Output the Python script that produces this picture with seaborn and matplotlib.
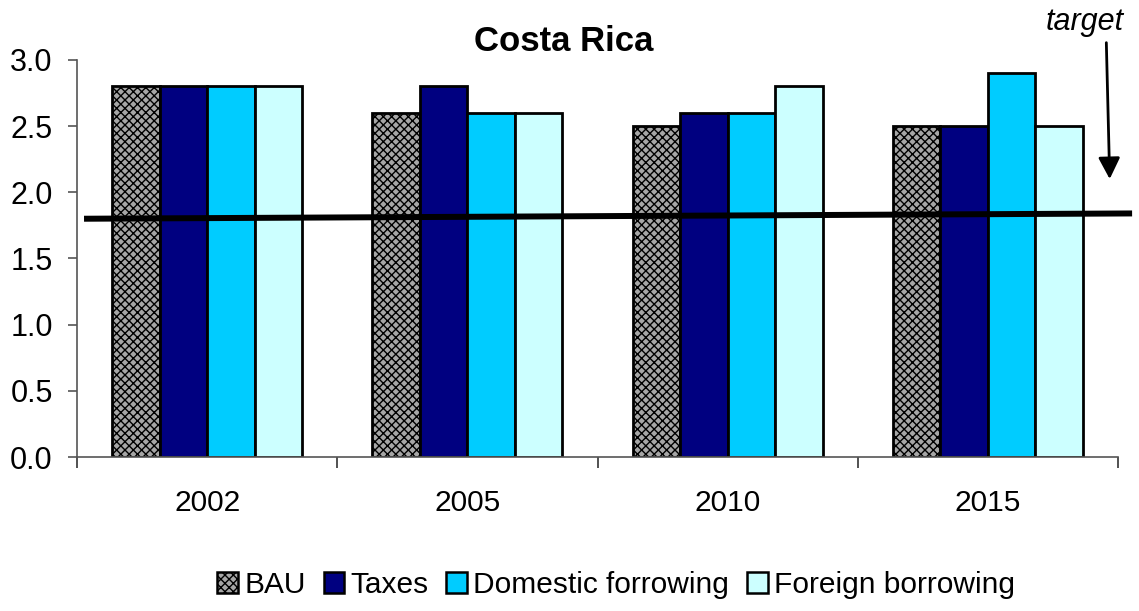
import matplotlib
matplotlib.use("Agg")
import matplotlib.pyplot as plt
import seaborn as sns
import pandas as pd

years = ["2002", "2005", "2010", "2015"]
scenarios = ["BAU", "Taxes", "Domestic forrowing", "Foreign borrowing"]
bau = [2.8, 2.6, 2.5, 2.5]
taxes = [2.8, 2.8, 2.6, 2.5]
domestic = [2.8, 2.6, 2.6, 2.9]
foreign = [2.8, 2.6, 2.8, 2.5]
target_start, target_end = 1.80, 1.84

colors = ["#a6a6a6", "#000080", "#00ccff", "#ccffff"]

rows = []
for name, vals in zip(scenarios, [bau, taxes, domestic, foreign]):
    for y, v in zip(years, vals):
        rows.append({"year": y, "scenario": name, "value": v})
df = pd.DataFrame(rows)

sns.set_theme(style="white")
plt.rcParams["font.family"] = ["Liberation Sans", "DejaVu Sans"]
plt.rcParams["text.color"] = "black"
plt.rcParams["hatch.linewidth"] = 1.0

fig = plt.figure(figsize=(11.39, 6.11), dpi=100)
ax = fig.add_axes([0.0676, 0.252, 0.9140, 0.650])

sns.barplot(data=df, x="year", y="value", hue="scenario", order=years,
            hue_order=scenarios, palette=colors, width=0.73, gap=0,
            edgecolor="black", linewidth=2.0, saturation=1, ax=ax,
            legend=False, errorbar=None)

for bar in ax.containers[0]:
    bar.set_hatch("xxxx")

ax.set_xlim(-0.5, 3.5)
ax.set_ylim(0, 3.0)
ax.set_yticks([0, 0.5, 1.0, 1.5, 2.0, 2.5, 3.0])
ax.set_yticklabels([f"{v:.1f}" for v in [0, 0.5, 1.0, 1.5, 2.0, 2.5, 3.0]])
ax.set_xlabel("")
ax.set_ylabel("")

for s in ["top", "right"]:
    ax.spines[s].set_visible(False)
for s in ["left", "bottom"]:
    ax.spines[s].set_color("#555555")
    ax.spines[s].set_linewidth(1.2)

ax.set_xticks([-0.5, 0.5, 1.5, 2.5, 3.5], minor=True)
ax.tick_params(axis="x", which="major", length=0, pad=23, labelsize=21.5, labelcolor="black")
ax.tick_params(axis="x", which="minor", length=8, width=1.2, color="#333333", direction="out", bottom=True)
ax.tick_params(axis="y", which="major", length=6.5, width=1.2, color="#555555",
               direction="out", left=True, pad=11, labelsize=22, labelcolor="black")

# target trend line across the chart
ax.plot([-0.473, 3.554], [target_start, target_end], color="black", lw=4.3,
        clip_on=False, solid_capstyle="butt", zorder=5)

ax.annotate("", xy=(3.468, 2.10), xytext=(3.455, 3.13), xycoords="data",
            annotation_clip=False,
            arrowprops=dict(arrowstyle="-|>,head_length=0.65,head_width=0.33",
                            color="black", lw=2, mutation_scale=20,
                            shrinkA=0, shrinkB=0))
fig.text(0.9526, 0.964, "target", ha="center", va="center", fontsize=22, style="italic")

fig.text(0.4953, 0.932, "Costa Rica", ha="center", va="center", fontsize=25, fontweight="bold")

handles = [plt.Rectangle((0, 0), 1, 1, facecolor=c, edgecolor="black", lw=1.8) for c in colors]
handles[0].set_hatch("xxxx")
fig.legend(handles, scenarios, loc="center", bbox_to_anchor=(0.541, 0.042), ncol=4,
           frameon=False, fontsize=21.5, handlelength=0.7, handleheight=0.7,
           handletextpad=0.2, columnspacing=0.6, borderpad=0)

fig.savefig("out.png", dpi=100)
